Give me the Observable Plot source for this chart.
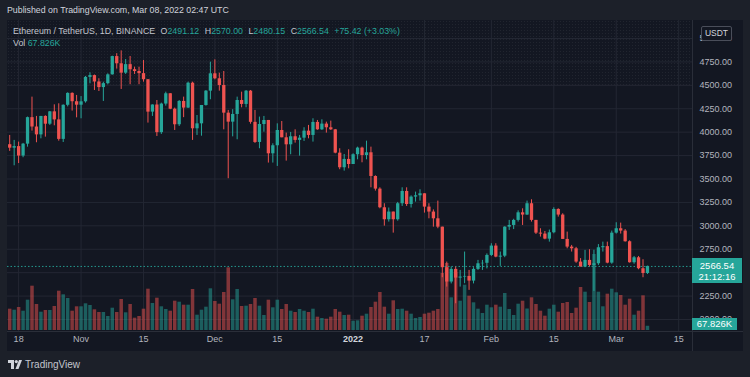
<!DOCTYPE html>
<html><head><meta charset="utf-8">
<script src="https://cdn.jsdelivr.net/npm/d3@7"></script>
<script src="https://cdn.jsdelivr.net/npm/@observablehq/plot@0.6"></script>
<style>
html,body{margin:0;padding:0;background:#1e222d;}
#page{position:relative;width:750px;height:377px;overflow:hidden;background:#1c2029;font-family:"Liberation Sans",Arial,sans-serif;}
#panel{position:absolute;left:7px;top:20px;width:736px;height:331px;background:#131722;}
#tex{position:absolute;left:7px;top:20px;width:685px;height:65px;background-image:radial-gradient(rgba(255,255,255,0.06) 0.6px, transparent 0.7px);background-size:3px 3px;}
.layer{position:absolute;left:0;top:0;}
.txt{position:absolute;white-space:pre;font-size:8.8px;line-height:11px;}
.row{position:absolute;display:flex;gap:5.5px;white-space:pre;font-size:8.8px;line-height:11px;color:#c3c6ce;}
.v{color:#26a69a}
.sep{position:absolute;background:#2a2e39;}
</style></head>
<body><div id="page">
<div id="panel"></div><div id="tex"></div>
<div class="sep" style="left:692px;top:20px;width:1px;height:331px"></div>
<div class="sep" style="left:7px;top:331px;width:736px;height:1px"></div>
<div id="gridLayer" class="layer"></div>
<div id="volLayer" class="layer"></div>
<div id="priceLayer" class="layer"></div>
<div class="txt" style="left:7px;top:5px;color:#d1d4dc">Published on TradingView.com, Mar 08, 2022 02:47 UTC</div>
<div class="row" style="left:13px;top:26px">
<span>Ethereum / TetherUS, 1D, BINANCE</span>
<span>O<span class="v">2491.12</span></span>
<span>H<span class="v">2570.00</span></span>
<span>L<span class="v">2480.15</span></span>
<span>C<span class="v">2566.54</span></span>
<span class="v">+75.42 (+3.03%)</span>
</div>
<div class="txt" style="left:13px;top:38px;color:#c3c6ce">Vol <span style="color:#26a69a">67.826K</span></div>
<div id="usdt" style="position:absolute;left:701px;top:26px;width:29px;height:13px;border:1px solid #4a4e5a;border-radius:2px;background:#131722;color:#d1d4dc;font-size:8.5px;line-height:13px;text-align:center">USDT</div>
<div id="pbox" style="position:absolute;left:692px;width:50px;height:25px;background:#26a69a;color:#ffffff;font-size:9.5px;line-height:11px;padding-top:2px;box-sizing:border-box;text-align:center">2566.54<br>21:12:16</div>
<div id="vbox" style="position:absolute;left:692px;width:45px;height:12px;background:#26a69a;color:#ffffff;font-size:9.5px;line-height:12px;text-align:center">67.826K</div>
<div style="position:absolute;left:8px;top:359px;display:flex;align-items:center;gap:3px">
<svg width="14" height="9" viewBox="0 0 14 9"><path d="M0 0H6V9H3V3H0Z" fill="#d1d4dc"/><circle cx="8.3" cy="1.6" r="1.6" fill="#d1d4dc"/><path d="M11 0H14L10.5 9H7.5Z" fill="#d1d4dc"/></svg>
<span style="color:#c3c6ce;font-size:10px">TradingView</span></div>
</div>
<script>
// ---- data: ETH/USDT daily, Binance, 2021-10-16 .. 2022-03-08 ----
const firstDay = "2021-10-16";
const opens = [3866,3829,3846,3745,3872,4155,4055,3971,4168,4085,
4217,4131,3923,4287,4414,4325,4288,4324,4585,4604,
4536,4476,4518,4612,4807,4730,4630,4721,4667,4648,
4625,4560,4214,4290,3995,4300,4410,4245,4079,4328,
4257,4523,4036,4089,4285,4438,4623,4570,4498,4203,
4107,4189,4338,4296,4438,4105,3890,4082,4125,3769,
3855,4018,3940,3865,3951,3912,3936,4011,3965,4104,
4025,4086,4047,4025,3776,3620,3709,3655,3759,3830,
3751,3780,3527,3392,3193,3065,3147,3065,3236,3367,
3228,3307,3321,3342,3200,3147,3075,2986,2553,2400,
2535,2442,2453,2460,2410,2535,2595,2600,2684,2784,
2666,2676,2986,3004,3058,3139,3115,3236,3058,2922,
2912,2858,2926,3175,3115,2855,2773,2755,2613,2560,
2631,2577,2595,2766,2778,2602,2922,2969,2944,2830,
2606,2659,2542,2491.12];
const highs = [3965,3912,3894,3880,4161,4374,4168,4168,4175,4221,
4292,4303,4292,4420,4420,4392,4380,4595,4634,4610,
4570,4534,4623,4811,4838,4868,4776,4808,4694,4694,
4765,4560,4292,4338,4310,4427,4412,4257,4338,4374,
4534,4534,4178,4285,4445,4747,4772,4630,4648,4232,
4240,4374,4427,4445,4445,4232,4161,4168,4125,3876,
4089,4114,3990,3997,4025,3965,4047,4072,4143,4125,
4132,4107,4118,4029,3823,3762,3812,3769,3840,3840,
3904,3840,3534,3406,3236,3190,3147,3250,3406,3406,
3320,3360,3385,3342,3236,3170,3264,2986,2613,2560,
2560,2524,2720,2524,2553,2631,2631,2700,2809,2809,
2720,2990,3058,3070,3160,3182,3264,3278,3058,2969,
2940,2955,3193,3182,3129,2933,2791,2770,2650,2738,
2745,2740,2800,2826,2826,2944,3033,3029,2960,2840,
2673,2673,2638,2570.00];
const lows = [3795,3641,3665,3727,3840,4011,3887,3929,3947,4072,
4068,3904,3890,4270,4225,4153,4143,4310,4516,4445,
4434,4328,4506,4609,4673,4456,4616,4506,4616,4506,
4534,4097,4168,3954,3976,4278,4240,4018,4061,4155,
4253,3912,3965,3957,4278,4346,4559,4438,4025,3503,
3950,3919,4260,4260,4085,3880,3823,4000,3670,3670,
3634,3940,3691,3759,3883,3744,3901,3929,3894,4020,
4018,3990,4018,3769,3599,3584,3609,3655,3705,3673,
3705,3406,3371,3182,2997,3040,2922,3050,3207,3207,
3190,3253,3264,3136,3075,2986,2969,2446,2346,2380,
2168,2346,2382,2311,2380,2524,2524,2540,2673,2659,
2567,2660,2951,2960,3040,3004,3111,3040,2908,2880,
2851,2826,2915,3093,2855,2755,2720,2600,2560,2553,
2560,2300,2577,2720,2595,2590,2912,2912,2826,2602,
2590,2531,2446,2480.15];
const closes = [3829,3846,3745,3872,4155,4055,3971,4168,4085,4217,
4131,3923,4287,4414,4325,4288,4324,4585,4604,4536,
4476,4518,4612,4807,4730,4630,4721,4667,4648,4625,
4560,4214,4290,3995,4300,4410,4245,4079,4328,4257,
4523,4036,4089,4285,4438,4623,4570,4498,4203,4107,
4189,4338,4296,4438,4105,3890,4082,4125,3769,3855,
4018,3940,3865,3951,3912,3936,4011,3965,4104,4025,
4086,4047,4025,3776,3620,3709,3655,3759,3830,3751,
3780,3527,3392,3193,3065,3147,3065,3236,3367,3228,
3307,3321,3342,3200,3147,3075,2986,2553,2400,2535,
2442,2453,2460,2410,2535,2595,2600,2684,2784,2666,
2676,2986,3004,3058,3139,3115,3236,3058,2922,2912,
2858,2926,3175,3115,2855,2773,2755,2613,2560,2631,
2577,2595,2766,2778,2602,2922,2969,2944,2830,2606,
2659,2542,2491.12,2566.54];
// volume in thousands of ETH
const volumesK = [341,325,368,309,485,709,416,293,320,320,
384,629,571,512,309,379,379,427,400,331,
288,288,224,357,288,496,283,416,197,224,
341,661,432,517,379,336,309,469,453,405,
405,656,245,325,373,667,464,421,608,1003,
491,656,384,389,416,512,389,240,485,363,
485,336,416,309,288,336,309,288,341,213,
192,181,213,336,293,240,245,149,155,229,
261,368,453,608,373,261,475,336,341,309,
261,192,208,261,277,309,336,912,1072,523,
928,469,725,549,443,341,272,405,363,405,
373,592,336,240,421,469,344,523,416,309,
229,341,405,293,432,448,272,357,688,613,
448,1216,613,379,581,661,603,560,405,501,
245,309,555,67.826];
const priceTicks = [2000,2250,2500,2750,3000,3250,3500,3750,4000,4250,4500,4750,5000];
const priceTickLabels = [2000,2250,2750,3000,3250,3500,3750,4000,4250,4500,4750,5000]; // 2500 sits under the last-price tag
const timeTickDates = ["2021-10-18","2021-11-01","2021-11-15","2021-12-01","2021-12-15","2022-01-01","2022-01-17","2022-02-01","2022-02-15","2022-03-01","2022-03-15"];
const timeTickLabels = ["18","Nov","15","Dec","15","2022","17","Feb","15","Mar","15"];
const lastPrice = 2566.54;
const lastVolumeK = 67.826;

// ---- build table ----
const UP = "#26a69a", DOWN = "#ef5350";
const day0 = new Date(firstDay + "T00:00:00Z");
const candles = closes.map((c, i) => ({
  date: d3.utcDay.offset(day0, i),
  open: opens[i], high: highs[i], low: lows[i], close: c,
  vol: volumesK[i], color: c >= opens[i] ? UP : DOWN
}));
const ticks = timeTickDates.map((d, i) => ({date: new Date(d + "T00:00:00Z"), label: timeTickLabels[i]}));

const W = 750, H = 377;
const frame = {width: W, height: H, marginLeft: 7, marginRight: 58, marginTop: 20, marginBottom: 46};
const xScale = {type: "utc", domain: [day0, new Date("2022-03-17T00:00:00Z")], range: [9.2, 687.1], axis: null};
const yScale = {domain: [2000, 5000], range: [319, 38], axis: null};
const style = {background: "transparent", color: "#b2b5be", fontFamily: "'Liberation Sans', Arial, sans-serif", fontSize: "9px", overflow: "visible"};

const grid = Plot.plot({...frame, x: xScale, y: yScale, style,
  marks: [
    Plot.ruleX(ticks, {x: "date", stroke: "#232733", strokeWidth: 1}),
    Plot.ruleY(priceTicks, {y: d => d, stroke: "#232733", strokeWidth: 1})
  ]});
document.getElementById("gridLayer").append(grid);

const vol = Plot.plot({...frame, x: xScale, y: {domain: [0, 1600], range: [330, 230], axis: null}, color: {type: "identity"}, style,
  marks: [
    Plot.ruleX(candles, {x: "date", y1: 0, y2: "vol", stroke: "color", strokeOpacity: 0.5, strokeWidth: 3.5})
  ]});
document.getElementById("volLayer").append(vol);

const price = Plot.plot({...frame, x: xScale, y: yScale, color: {type: "identity"}, style,
  marks: [
    Plot.ruleY([lastPrice], {y: d => d, stroke: UP, strokeDasharray: "1.5,2", strokeWidth: 1, strokeOpacity: 0.9}),
    Plot.ruleX(candles, {x: "date", y1: "low", y2: "high", stroke: "color", strokeWidth: 1}),
    Plot.ruleX(candles, {x: "date", y1: "open", y2: "close", stroke: "color", strokeWidth: 3.3}),
    Plot.text(priceTickLabels, {y: d => d, text: d => d.toFixed(2), frameAnchor: "right", dx: 7, textAnchor: "start", fill: "#b2b5be"}),
    Plot.text(ticks.filter(t => t.label !== "2022"), {x: "date", text: "label", frameAnchor: "bottom", dy: 10, fill: "#b2b5be"}),
    Plot.text(ticks.filter(t => t.label === "2022"), {x: "date", text: "label", frameAnchor: "bottom", dy: 10, fill: "#d1d4dc", fontWeight: "bold"})
  ]});
document.getElementById("priceLayer").append(price);

const yp = price.scale("y").apply(lastPrice);
document.getElementById("pbox").style.top = (yp - 8) + "px";
const yv = vol.scale("y").apply(lastVolumeK);
document.getElementById("vbox").style.top = (yv - 8) + "px";
</script>
</body></html>
